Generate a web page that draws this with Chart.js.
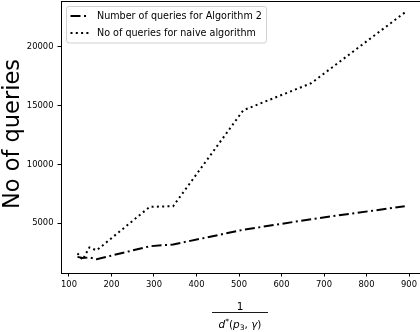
<!DOCTYPE html>
<html>
<head>
<meta charset="utf-8">
<script src="https://cdn.jsdelivr.net/npm/chart.js@4.4.1/dist/chart.umd.min.js"></script>
<style>
html,body{margin:0;padding:0;background:#fff;overflow:hidden;width:420px;height:332px;}
#wrap{width:420px;height:332px;overflow:hidden;position:relative;}
canvas{display:block;}
</style>
</head>
<body>
<div id="wrap"><canvas id="c" width="422" height="332"></canvas></div>
<script>
// ---- data ----
const xValues = [120, 132, 148, 165, 290, 345, 510, 670, 890];
const alg2Queries = [2150, 2050, 2100, 1950, 3050, 3200, 4450, 5350, 6450];
const naiveQueries = [2450, 1900, 2950, 2700, 6400, 6450, 14600, 16900, 22900];
const xTicks = [100, 200, 300, 400, 500, 600, 700, 800, 900];
const yTicks = [5000, 10000, 15000, 20000];
const seriesLabels = ['Number of queries for Algorithm 2', 'No of queries for naive algorithm'];
const yTitle = 'No of queries';

const FONT = '"DejaVu Sans", sans-serif';
const DASHDOT = [10, 3.5, 2, 3.5];
const DOTTED = [2, 3.3];

function pts(ys){ return xValues.map((x,i)=>({x:x, y:ys[i]})); }

const decor = {
  id: 'decor',
  afterDraw(chart){
    const ctx = chart.ctx, a = chart.chartArea;
    ctx.save();
    // top & right spines
    ctx.strokeStyle = '#000'; ctx.lineWidth = 1;
    ctx.beginPath();
    ctx.moveTo(Math.round(a.left)+0.5, Math.round(a.top)+0.5);
    ctx.lineTo(Math.round(a.right)+0.5, Math.round(a.top)+0.5);
    ctx.lineTo(Math.round(a.right)+0.5, Math.round(a.bottom)+0.5);
    ctx.stroke();

    // legend
    const lx = 66.5, ly = 6.5, lw = 200, lh = 36.5, r = 2.5;
    ctx.beginPath();
    ctx.moveTo(lx+r, ly); ctx.lineTo(lx+lw-r, ly); ctx.quadraticCurveTo(lx+lw, ly, lx+lw, ly+r);
    ctx.lineTo(lx+lw, ly+lh-r); ctx.quadraticCurveTo(lx+lw, ly+lh, lx+lw-r, ly+lh);
    ctx.lineTo(lx+r, ly+lh); ctx.quadraticCurveTo(lx, ly+lh, lx, ly+lh-r);
    ctx.lineTo(lx, ly+r); ctx.quadraticCurveTo(lx, ly, lx+r, ly);
    ctx.closePath();
    ctx.fillStyle = 'rgba(255,255,255,0.8)'; ctx.fill();
    ctx.strokeStyle = '#d0d0d0'; ctx.lineWidth = 1; ctx.stroke();

    const rows = [16, 33];
    chart.data.datasets.forEach((ds, i) => {
      ctx.strokeStyle = '#000'; ctx.lineWidth = 2; ctx.lineCap = 'butt';
      ctx.setLineDash(ds.borderDash);
      ctx.beginPath(); ctx.moveTo(70.5, rows[i]); ctx.lineTo(89.5, rows[i]); ctx.stroke();
      ctx.setLineDash([]);
      ctx.fillStyle = '#000'; ctx.font = '9.6px ' + FONT;
      ctx.textAlign = 'left'; ctx.textBaseline = 'middle';
      ctx.fillText(ds.label, 97, rows[i] + 0.5);
    });

    // y title
    ctx.save();
    ctx.translate(18.5, 134);
    ctx.rotate(-Math.PI/2);
    ctx.font = '22.5px ' + FONT; ctx.fillStyle = '#000';
    ctx.textAlign = 'center'; ctx.textBaseline = 'alphabetic';
    ctx.fillText(yTitle, 0, 0);
    ctx.restore();

    // x title : fraction 1 / d*(p3, γ)
    const cx = 240;
    ctx.fillStyle = '#000'; ctx.textBaseline = 'alphabetic'; ctx.textAlign = 'left';
    ctx.font = '10.5px ' + FONT;
    const w1 = ctx.measureText('1').width;
    ctx.fillText('1', cx - w1/2, 309.5);
    const parts = [
      {t:'d', f:'italic 10.5px ' + FONT, dy:0},
      {t:'*', f:'7.5px ' + FONT, dy:-4},
      {t:'(', f:'10.5px ' + FONT, dy:0},
      {t:'p', f:'italic 10.5px ' + FONT, dy:0},
      {t:'3', f:'7.5px ' + FONT, dy:2.5},
      {t:', ', f:'10.5px ' + FONT, dy:0},
      {t:'γ', f:'italic 10.5px ' + FONT, dy:0},
      {t:')', f:'10.5px ' + FONT, dy:0}
    ];
    let tw = 0;
    parts.forEach(p => { ctx.font = p.f; p.w = ctx.measureText(p.t).width; tw += p.w; });
    let x0 = cx - tw/2;
    parts.forEach(p => { ctx.font = p.f; ctx.fillText(p.t, x0, 327.5 + p.dy); x0 += p.w; });
    ctx.fillRect(Math.min(212, cx - tw/2 - 1), 312, Math.max(56, tw + 2), 0.9);
    ctx.restore();
  }
};

new Chart(document.getElementById('c'), {
  type: 'line',
  data: {
    datasets: [
      { label: seriesLabels[0], data: pts(alg2Queries), borderColor: '#000', borderWidth: 2,
        borderDash: DASHDOT, pointRadius: 0, fill: false, tension: 0, borderCapStyle: 'butt' },
      { label: seriesLabels[1], data: pts(naiveQueries), borderColor: '#000', borderWidth: 2,
        borderDash: DOTTED, pointRadius: 0, fill: false, tension: 0, borderCapStyle: 'butt' }
    ]
  },
  options: {
    responsive: false,
    animation: false,
    devicePixelRatio: 1,
    layout: { padding: { top: 1, right: 1, left: 0, bottom: 0 } },
    plugins: { legend: { display: false }, tooltip: { enabled: false } },
    scales: {
      x: {
        type: 'linear', min: 81.2, max: 928.2,
        afterBuildTicks: s => { s.ticks = xTicks.map(v => ({value: v})); },
        afterFit: s => { s.height = 59; s.paddingLeft = 0; s.paddingRight = 0; s.paddingTop = 0; s.paddingBottom = 0; },
        grid: { display: true, drawOnChartArea: false, drawTicks: true, tickLength: 3.5, tickColor: '#000', tickWidth: 1 },
        border: { display: true, color: '#000', width: 1 },
        ticks: { color: '#000', font: { family: FONT, size: 8.4 }, padding: 3.5, maxRotation: 0, autoSkip: false,
                 callback: v => String(v) }
      },
      y: {
        type: 'linear', min: 779, max: 23880,
        afterBuildTicks: s => { s.ticks = yTicks.map(v => ({value: v})); },
        afterFit: s => { s.width = 61; s.paddingLeft = 0; s.paddingRight = 0; s.paddingTop = 0; s.paddingBottom = 0; },
        grid: { display: true, drawOnChartArea: false, drawTicks: true, tickLength: 3.5, tickColor: '#000', tickWidth: 1 },
        border: { display: true, color: '#000', width: 1 },
        ticks: { color: '#000', font: { family: FONT, size: 8.4 }, padding: 4, autoSkip: false,
                 callback: v => String(v) }
      }
    }
  },
  plugins: [decor]
});
</script>
</body>
</html>
